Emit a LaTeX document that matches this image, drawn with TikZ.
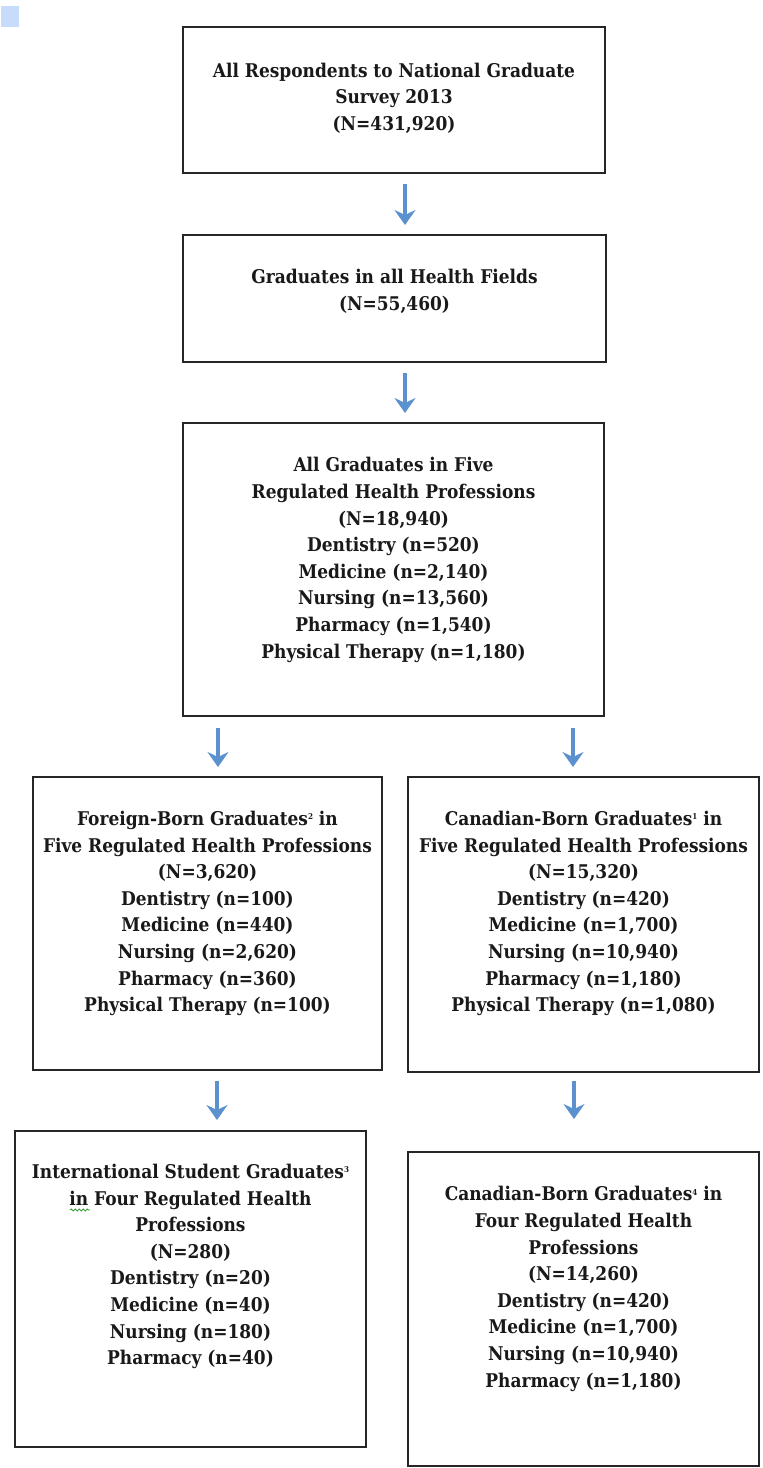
\documentclass[tikz,border=0pt]{standalone}
\usepackage{fontspec}
\setmainfont{DejaVu Serif Condensed}
\usetikzlibrary{arrows.meta,decorations.pathmorphing}
\definecolor{arrblue}{RGB}{91,145,207}
\definecolor{sqblue}{RGB}{198,220,250}
\definecolor{spellgreen}{RGB}{60,160,60}
\newcommand{\sups}[1]{\raisebox{0.6ex}{\fontsize{8}{8}\selectfont #1}}
\tikzset{
  boxnode/.style={draw=black!85, line width=2pt, inner sep=0pt, rectangle},
  txt/.style={align=center, inner sep=0pt, font=\bfseries\fontsize{18.9}{26.6}\selectfont, text=black!90},
  arr/.style={draw=arrblue, line width=3.6pt, -{Stealth[length=15pt,width=21pt,inset=5pt]}},
}
\begin{document}
\begin{tikzpicture}[x=1pt,y=-1pt]
\useasboundingbox (0,0) rectangle (763,1468);
\fill[sqblue] (1,6) rectangle (19,27);
% boxes
\node[boxnode, minimum width=422, minimum height=146] (b1) at (394,100) {};
\node[boxnode, minimum width=423, minimum height=127] (b2) at (394.5,298.5) {};
\node[boxnode, minimum width=421, minimum height=293] (b3) at (393.5,569.5) {};
\node[boxnode, minimum width=349, minimum height=293] (b4) at (207.5,923.5) {};
\node[boxnode, minimum width=351, minimum height=295] (b5) at (583.5,924.5) {};
\node[boxnode, minimum width=351, minimum height=316] (b6) at (190.5,1289) {};
\node[boxnode, minimum width=351, minimum height=314] (b7) at (583.5,1309) {};
% texts
\node[txt] (t1) at (394,98) {All Respondents to National Graduate\\Survey 2013\\(N=431,920)};
\node[txt] (t2) at (394.5,291.5) {Graduates in all Health Fields\\(N=55,460)};
\node[txt] (t3) at (393.5,560) {All Graduates in Five\\Regulated Health Professions\\(N=18,940)\\Dentistry (n=520)\\Medicine (n=2,140)\\Nursing (n=13,560)\\Pharmacy (n=1,540)\\Physical Therapy (n=1,180)};
\node[txt] (t4) at (207.5,913.5) {Foreign-Born Graduates\sups{2} in\\Five Regulated Health Professions\\(N=3,620)\\Dentistry (n=100)\\Medicine (n=440)\\Nursing (n=2,620)\\Pharmacy (n=360)\\Physical Therapy (n=100)};
\node[txt] (t5) at (583.5,913.5) {Canadian-Born Graduates\sups{1} in\\Five Regulated Health Professions\\(N=15,320)\\Dentistry (n=420)\\Medicine (n=1,700)\\Nursing (n=10,940)\\Pharmacy (n=1,180)\\Physical Therapy (n=1,080)};
\node[txt] (t6) at (190.5,1266.5) {International Student Graduates\sups{3}\\in Four Regulated Health\\Professions\\(N=280)\\Dentistry (n=20)\\Medicine (n=40)\\Nursing (n=180)\\Pharmacy (n=40)};
\node[txt] (t7) at (583.5,1289) {Canadian-Born Graduates\sups{4} in\\Four Regulated Health\\Professions\\(N=14,260)\\Dentistry (n=420)\\Medicine (n=1,700)\\Nursing (n=10,940)\\Pharmacy (n=1,180)};
% spell-check squiggle
\draw[spellgreen, line width=0.9pt, decorate, decoration={snake, amplitude=1pt, segment length=4pt}] (70,1210) -- (90,1210);
% arrows
\draw[arr] ([xshift=11pt, yshift=-10pt]b1.south) -- ([xshift=10.5pt, yshift=9pt]b2.north);
\draw[arr] ([xshift=10.5pt, yshift=-10pt]b2.south) -- ([xshift=11.5pt, yshift=9pt]b3.north);
\draw[arr] ([xshift=-175.5pt, yshift=-11pt]b3.south) -- ([xshift=10.5pt, yshift=9pt]b4.north);
\draw[arr] ([xshift=179.5pt, yshift=-11pt]b3.south) -- ([xshift=-10.5pt, yshift=9pt]b5.north);
\draw[arr] ([xshift=9.5pt, yshift=-10pt]b4.south) -- ([xshift=26.5pt, yshift=10pt]b6.north);
\draw[arr] ([xshift=-9.5pt, yshift=-8pt]b5.south) -- ([xshift=-9.5pt, yshift=32pt]b7.north);
\end{tikzpicture}
\end{document}
